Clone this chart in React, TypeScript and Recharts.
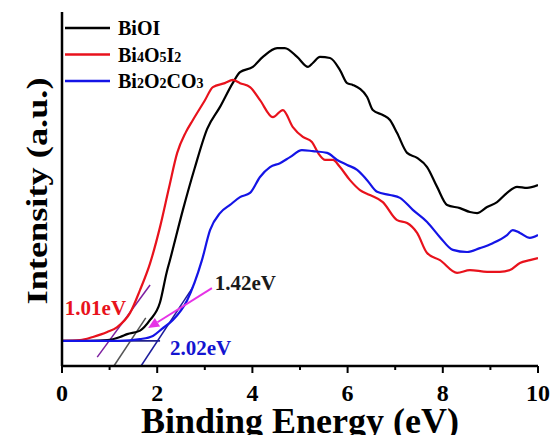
import { Legend, Line, LineChart, ReferenceDot, ReferenceLine, XAxis, YAxis } from "recharts";

const energyTicks = [0, 1, 2, 3, 4, 5, 6, 7, 8, 9, 10];

const seriesNames = ["BiOI", "Bi4O5I2", "Bi2O2CO3"];

const biOIEnergy = [
  0, 0.6, 0.95, 1.22, 1.37, 1.64, 1.85, 2.06, 2.2, 2.27, 2.54, 2.79, 3.05, 3.32, 3.59, 3.74, 4.01,
  4.22, 4.52, 4.68, 4.94, 5.17, 5.27, 5.42, 5.63, 5.84, 5.99, 6.11, 6.41, 6.53, 6.74, 6.89, 7.04,
  7.25, 7.46, 7.67, 7.88, 8.09, 8.36, 8.57, 8.72, 8.93, 9.14, 9.35, 9.56, 9.77, 10,
];
const biOIIntensity = [
  7.1, 7.1, 7.3, 8.2, 9.0, 10.0, 13.0, 18.0, 26.5, 30.0, 44.1, 56.0, 67.0, 73.2, 80.0, 83.0, 84.5,
  87.3, 89.8, 89.8, 87.3, 84.5, 85.6, 87.3, 87.0, 83.6, 79.9, 79.4, 76.0, 72.3, 70.9, 69.5, 65.8,
  60.2, 58.8, 56.2, 50.6, 45.5, 44.6, 43.5, 43.2, 44.9, 46.3, 48.9, 50.6, 50.3, 51.1,
];

const bi4o5i2Energy = [
  0, 0.38, 0.65, 0.95, 1.16, 1.43, 1.64, 1.85, 2.06, 2.25, 2.42, 2.6, 2.75, 3.0, 3.17, 3.42, 3.59,
  3.74, 3.95, 4.16, 4.43, 4.64, 4.85, 5.06, 5.25, 5.38, 5.53, 5.69, 5.84, 6.05, 6.26, 6.47, 6.74,
  7.04, 7.25, 7.46, 7.67, 7.94, 8.3, 8.57, 8.93, 9.2, 9.41, 9.62, 9.83, 10,
];
const bi4o5i2Intensity = [
  7.1, 7.3, 8.2, 9.6, 11.0, 15.0, 21.5, 29.0, 39.3, 50.5, 60.2, 66.0, 69.5, 75.0, 78.8, 79.9, 80.8,
  79.9, 78.8, 75.1, 70.3, 72.3, 67.5, 64.7, 63.3, 60.2, 58.2, 58.2, 56.2, 52.5, 49.7, 48.3, 46.3,
  41.2, 40.4, 37.6, 31.9, 29.9, 26.3, 27.1, 26.6, 26.6, 27.1, 29.1, 29.9, 30.5,
];

const bi2o2co3Energy = [
  0, 1.2, 1.64, 1.91, 2.1, 2.33, 2.63, 2.94, 3.11, 3.32, 3.53, 3.74, 3.95, 4.16, 4.37, 4.58, 4.79,
  5.04, 5.27, 5.57, 5.78, 5.99, 6.2, 6.41, 6.62, 6.89, 7.1, 7.37, 7.67, 7.94, 8.21, 8.51, 8.78,
  9.05, 9.35, 9.47, 9.62, 9.83, 10,
];
const bi2o2co3Intensity = [
  7.1, 7.1, 7.6, 8.5, 10.5, 13.0, 18.6, 29.9, 38.4, 43.2, 45.5, 47.7, 48.9, 53.4, 56.2, 57.3, 59.0,
  61.0, 60.7, 60.2, 58.2, 56.8, 55.4, 52.5, 49.2, 48.3, 47.5, 44.1, 40.7, 36.4, 32.8, 32.2, 33.3,
  34.7, 37.0, 38.4, 37.6, 36.2, 37.0,
];

const zip = (xs: number[], ys: number[]) => xs.map((x, i) => ({ x, y: ys[i] }));

const series = [
  { name: seriesNames[0], color: "#000000", data: zip(biOIEnergy, biOIIntensity) },
  { name: seriesNames[1], color: "#e8121c", data: zip(bi4o5i2Energy, bi4o5i2Intensity) },
  { name: seriesNames[2], color: "#1414e6", data: zip(bi2o2co3Energy, bi2o2co3Intensity) },
];

const FONT = "'Liberation Serif', 'Times New Roman', serif";

function EnergyTick(props: any) {
  const { x, y, payload } = props;
  const v = payload.value;
  const major = v % 2 === 0;
  return (
    <g>
      <line x1={x} x2={x} y1={y} y2={y + (major ? 7 : 4)} stroke="#000" strokeWidth={2} />
      {major && (
        <text x={x} y={y + 35} textAnchor="middle" fontFamily={FONT} fontWeight="bold" fontSize={24} fill="#000">
          {v}
        </text>
      )}
    </g>
  );
}

// splits "Bi4O5I2" into normal letters and small digits
function Formula({ text }: { text: string }) {
  const parts = text.match(/[A-Za-z]+|\d+/g) || [];
  return (
    <>
      {parts.map((p, i) =>
        /\d/.test(p) ? (
          <tspan key={i} fontSize={14} dy={0}>
            {p}
          </tspan>
        ) : (
          <tspan key={i}>{p}</tspan>
        )
      )}
    </>
  );
}

function LegendBox() {
  return (
    <svg width={200} height={85}>
      {series.map((s, i) => {
        const cy = 14 + i * 26.5;
        return (
          <g key={s.name}>
            <line x1={2} x2={47} y1={cy} y2={cy} stroke={s.color} strokeWidth={2.5} />
            <text x={55} y={cy + 7} fontFamily={FONT} fontWeight="bold" fontSize={20} fill="#000">
              <Formula text={s.name} />
            </text>
          </g>
        );
      })}
    </svg>
  );
}

function AnnotationText({ viewBox, text, color }: any) {
  return (
    <text x={viewBox.x} y={viewBox.y} fontFamily={FONT} fontWeight="bold" fontSize={21} fill={color}>
      {text}
    </text>
  );
}

function Arrow(props: any) {
  const { x1, y1, x2, y2 } = props;
  const ang = Math.atan2(y2 - y1, x2 - x1);
  const len = 11;
  const w = 5;
  const bx = x2 - len * Math.cos(ang);
  const by = y2 - len * Math.sin(ang);
  const px = -Math.sin(ang) * w;
  const py = Math.cos(ang) * w;
  return (
    <g>
      <line x1={x1} y1={y1} x2={bx} y2={by} stroke="#e633e6" strokeWidth={2} />
      <polygon points={`${x2},${y2} ${bx + px},${by + py} ${bx - px},${by - py}`} fill="#e633e6" />
    </g>
  );
}

export default function App() {
  return (
    <div style={{ position: "absolute", left: 0, top: 0, width: 550, height: 435, background: "#fff" }}>
      <LineChart width={550} height={435} margin={{ top: 12, right: 12, left: 0, bottom: 0 }}>
        <XAxis
          dataKey="x"
          type="number"
          domain={[0, 10]}
          ticks={energyTicks}
          allowDataOverflow
          height={69}
          axisLine={{ stroke: "#000", strokeWidth: 2.5 }}
          tickLine={false}
          tickSize={0}
          tickMargin={0}
          tick={<EnergyTick />}
          interval={0}
          label={({ viewBox }: any) => (
            <text
              x={viewBox.x + viewBox.width / 2}
              y={viewBox.y + 67}
              textAnchor="middle"
              fontFamily={FONT}
              fontWeight="bold"
              fontSize={36}
              fill="#000"
            >
              Binding Energy (eV)
            </text>
          )}
        />
        <XAxis
          xAxisId="top"
          orientation="top"
          type="number"
          domain={[0, 10]}
          height={0}
          tick={false}
          tickLine={false}
          axisLine={{ stroke: "#000", strokeWidth: 2.5 }}
        />
        <YAxis
          type="number"
          domain={[0, 100]}
          width={62}
          tick={false}
          tickLine={false}
          axisLine={{ stroke: "#000", strokeWidth: 2.5 }}
          label={({ viewBox }: any) => {
            const cx = viewBox.x + 47;
            const cy = viewBox.y + viewBox.height / 2 + 2;
            return (
              <text
                x={cx}
                y={cy}
                transform={`rotate(-90, ${cx}, ${cy})`}
                textAnchor="middle"
                fontFamily={FONT}
                fontWeight="bold"
                fontSize={29}
                textLength={227}
                lengthAdjust="spacingAndGlyphs"
                fill="#000"
              >
                Intensity (a.u.)
              </text>
            );
          }}
        />
        <YAxis
          yAxisId="right"
          orientation="right"
          type="number"
          domain={[0, 100]}
          width={0}
          tick={false}
          tickLine={false}
          axisLine={{ stroke: "#000", strokeWidth: 2.5 }}
        />

        {/* baseline and tangent lines used for the band-edge estimates */}
        <ReferenceLine segment={[{ x: 0, y: 7.1 }, { x: 2.06, y: 7.1 }]} stroke="#22228c" strokeWidth={1.6} />
        <ReferenceLine segment={[{ x: 0.74, y: 2.5 }, { x: 1.85, y: 22.9 }]} stroke="#7d1fa0" strokeWidth={1.5} />
        <ReferenceLine segment={[{ x: 1.09, y: 0 }, { x: 1.76, y: 13.6 }]} stroke="#555555" strokeWidth={1.5} />
        <ReferenceLine segment={[{ x: 1.66, y: 0 }, { x: 2.75, y: 22.3 }]} stroke="#1c1c9c" strokeWidth={1.5} />

        {series.map((s) => (
          <Line
            key={s.name}
            data={s.data}
            dataKey="y"
            name={s.name}
            type="monotone"
            stroke={s.color}
            strokeWidth={2.2}
            dot={false}
            activeDot={false}
            isAnimationActive={false}
          />
        ))}

        <ReferenceLine
          segment={[{ x: 3.15, y: 22 }, { x: 1.81, y: 10.7 }]}
          shape={(p: any) => <Arrow {...p} />}
        />

        <ReferenceDot x={0.06} y={14.4} r={0} fill="none" stroke="none"
          label={(p: any) => <AnnotationText {...p} text="1.01eV" color="#e8121c" />} />
        <ReferenceDot x={3.21} y={21.5} r={0} fill="none" stroke="none"
          label={(p: any) => <AnnotationText {...p} text="1.42eV" color="#1a1a1a" />} />
        <ReferenceDot x={2.27} y={3.1} r={0} fill="none" stroke="none"
          label={(p: any) => <AnnotationText {...p} text="2.02eV" color="#1414d0" />} />

        <Legend
          layout="vertical"
          align="center"
          verticalAlign="middle"
          wrapperStyle={{ left: 63, top: 14, width: 200, height: 85 }}
          content={() => <LegendBox />}
        />
      </LineChart>
    </div>
  );
}
